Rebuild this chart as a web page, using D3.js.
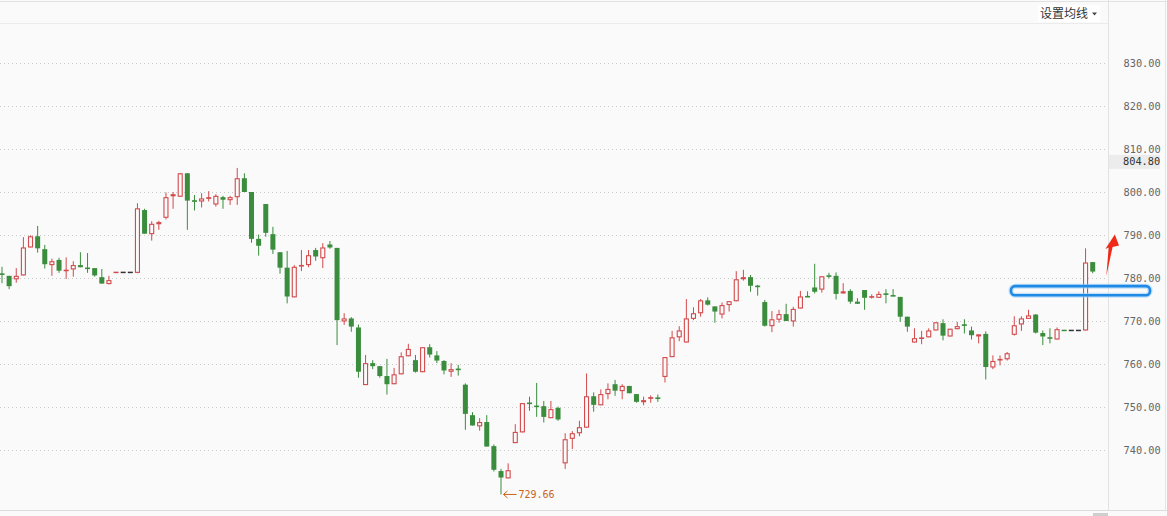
<!DOCTYPE html>
<html><head><meta charset="utf-8">
<script src="https://cdn.jsdelivr.net/npm/d3@7/dist/d3.min.js"></script>
<style>html,body{margin:0;padding:0;background:#fafafa;}svg{display:block;}</style>
</head><body>
<svg id="c" width="1167" height="516"></svg>
<script>
const openP = [780.95,780.5,779.7,780.6,787.1,789.7,786.7,783.0,784.2,781.6,782.0,783.0,782.3,782.3,780.2,778.6,781.3,781.3,781.3,781.2,
795.8,790.2,792.5,794.0,799.0,798.9,804.35,797.95,797.8,798.4,797.1,798.8,798.1,798.8,803.2,800.0,789.1,797.2,790.2,786.0,
782.4,775.5,782.7,783.0,786.5,784.6,787.8,787.0,769.9,770.6,768.5,755.1,760.2,759.5,757.2,755.3,757.6,761.8,760.9,758.1,
763.9,762.0,760.7,758.2,758.8,755.2,748.1,745.5,746.5,740.9,735.1,733.4,741.6,744.1,750.9,750.2,750.2,747.4,749.8,736.9,
742.6,743.9,745.2,752.5,750.4,753.0,755.3,753.7,754.9,753.0,751.1,751.9,752.1,757.0,761.6,766.2,765.0,770.5,771.8,774.8,
773.4,771.5,773.7,774.6,779.7,780.2,778.2,774.4,768.8,770.3,771.6,769.9,772.9,775.7,777.8,777.3,780.5,780.5,776.4,777.0,
774.5,777.2,775.5,775.4,776.3,775.9,775.6,771.0,765.0,765.9,766.2,767.8,769.5,766.4,768.1,769.1,767.8,766.4,767.0,759.2,
760.9,761.1,766.8,769.2,770.5,771.5,767.2,766.1,765.7,767.8,767.8,767.8,767.8,783.7];
const highP = [782.6,780.5,782.3,789.5,789.9,792.1,787.7,784.5,784.7,784.8,783.9,786.0,785.8,782.3,782.1,780.5,781.3,781.3,781.3,797.4,
796.1,793.2,793.3,799.9,800.0,804.4,804.4,799.3,799.7,800.2,799.5,799.1,799.1,805.6,804.35,800.0,790.1,797.2,791.9,786.0,
786.3,783.0,786.5,786.5,787.0,788.1,788.6,787.0,771.8,770.9,769.2,762.1,760.9,759.5,761.2,759.1,762.7,764.7,762.1,763.9,
764.6,763.0,760.9,760.2,759.8,755.5,748.8,747.4,748.1,741.3,735.6,736.9,746.0,750.9,752.4,755.6,751.4,751.4,750.1,743.9,
744.4,746.8,757.8,753.4,754.1,755.5,756.3,755.3,754.9,753.0,752.4,752.7,752.9,761.6,767.7,768.8,775.1,773.2,775.1,775.5,
773.4,774.3,774.6,781.6,781.9,780.7,778.4,774.9,772.3,772.6,774.0,773.3,777.0,776.9,783.3,780.4,781.2,781.3,778.8,777.4,
775.3,777.2,776.2,776.9,777.4,777.4,775.6,771.0,768.3,767.7,768.3,769.7,770.4,768.2,769.8,770.4,768.7,766.9,767.6,762.0,
762.0,762.8,771.1,771.1,772.6,771.6,767.8,768.3,768.5,767.8,767.8,767.8,786.9,783.7];
const lowP = [778.8,777.4,778.9,780.6,787.1,785.9,782.2,780.5,781.2,779.8,780.3,782.5,781.2,780.3,778.7,778.5,781.3,781.3,781.3,781.1,
790.3,788.7,791.2,793.6,796.1,798.9,791.2,795.7,796.4,797.8,796.6,796.1,797.0,797.0,800.0,788.2,785.2,789.6,785.6,781.0,
774.1,775.5,781.6,782.5,784.0,782.3,786.8,764.4,769.1,767.5,756.8,755.1,758.8,756.8,752.9,755.3,757.6,761.8,758.0,758.1,
761.5,760.2,757.6,757.0,757.3,744.7,745.7,744.5,740.8,735.0,729.66,733.4,741.6,744.1,749.1,747.7,746.4,747.4,746.8,735.6,
740.2,743.2,745.2,748.9,750.4,751.8,752.6,751.8,753.2,751.0,750.4,751.0,751.2,755.7,761.6,765.3,765.0,770.2,771.0,773.6,
769.6,770.6,772.2,774.6,779.4,776.8,775.9,768.7,767.4,769.6,770.0,768.7,772.9,775.6,776.4,776.6,779.9,775.0,776.4,774.0,
774.0,772.6,775.2,775.4,774.1,775.8,769.8,767.5,765.0,764.6,766.2,767.8,765.5,766.4,768.1,767.1,765.7,764.8,756.4,758.8,
759.7,760.8,766.6,767.7,770.5,767.1,764.4,764.8,765.7,767.8,767.8,767.8,767.8,781.1];
const closeP = [780.85,778.1,780.5,787.1,789.7,786.9,783.2,783.9,781.7,781.9,783.0,782.5,782.2,780.6,778.7,779.5,781.3,781.3,781.3,796.2,
790.3,792.6,793.0,798.8,799.5,804.35,798.0,797.85,798.5,798.8,799.1,798.2,798.8,803.2,800.0,789.1,787.5,790.5,786.6,782.4,
775.7,782.6,783.0,785.3,785.0,787.1,787.1,770.2,770.6,768.7,758.2,760.2,759.5,757.2,755.3,757.6,761.8,763.5,758.2,763.9,
762.2,760.8,758.5,758.8,758.7,748.4,745.7,746.5,740.8,735.4,733.6,735.3,744.2,750.9,750.8,750.1,747.7,749.5,747.1,742.5,
743.9,745.3,752.5,750.5,753.0,754.2,753.8,754.9,753.2,751.2,751.6,752.3,752.0,761.6,766.2,767.8,770.6,771.8,774.8,773.8,
772.2,773.7,774.6,779.7,780.2,778.2,777.9,768.9,770.4,771.6,770.0,772.8,775.7,775.6,776.8,780.4,780.4,776.3,776.9,774.5,
774.0,775.4,775.7,776.3,776.2,775.8,771.0,768.7,766.0,766.1,767.8,769.7,766.6,768.2,768.8,769.0,766.7,766.9,759.3,760.7,
761.1,762.5,769.0,770.6,771.3,767.3,766.4,766.0,768.1,767.8,767.8,767.8,783.6,781.5];
const days = openP.map((d,i)=>String(i+1));
const tickVals = [740,750,760,770,780,790,800,810,820,830];
const lowLabel = 729.66;
const lastLabel = 804.80;
const menuText = "设置均线";

const RED = "#d24a4c", GREEN = "#3a8d3c", FLAT = "#333", BG = "#fafafa";
const W = 1167, H = 516, axisX = 1108.5;
const svg = d3.select("#c");
svg.append("rect").attr("width",W).attr("height",H).attr("fill",BG);

const y = d3.scaleLinear().domain([740,830]).range([450,63]);
const x = d3.scalePoint().domain(days).range([2,1092.7]);
const bw = 5;

// frame
svg.append("line").attr("x1",0).attr("x2",W).attr("y1",1.5).attr("y2",1.5).attr("stroke","#e2e2e2");
svg.append("line").attr("x1",0).attr("x2",axisX).attr("y1",23.5).attr("y2",23.5).attr("stroke","#ebebeb");
svg.append("line").attr("x1",axisX).attr("x2",axisX).attr("y1",0).attr("y2",510).attr("stroke","#e2e2e2");
svg.append("line").attr("x1",1165.5).attr("x2",1165.5).attr("y1",0).attr("y2",510).attr("stroke","#e6e6e6");
svg.append("line").attr("x1",0).attr("x2",W).attr("y1",510.5).attr("y2",510.5).attr("stroke","#dcdcdc");

// grid
svg.append("g").selectAll("line").data(tickVals).join("line")
  .attr("x1",0).attr("x2",1106).attr("y1",d=>Math.round(y(d))+0.5).attr("y2",d=>Math.round(y(d))+0.5)
  .attr("stroke","#c8c8c8").attr("stroke-dasharray","1,3");

// axis
const ax = svg.append("g").attr("transform",`translate(${axisX},0)`)
  .call(d3.axisRight(y).tickValues(tickVals).tickSize(0).tickPadding(15).tickFormat(d3.format(".2f")));
ax.select(".domain").remove();
ax.selectAll("text").attr("font-family","DejaVu Sans Mono, monospace").attr("font-size","10.3px").attr("fill","#666");

// last price label
const ly = y(lastLabel) - 9.5;
svg.append("rect").attr("x",1109).attr("y",ly-7).attr("width",51).attr("height",14).attr("fill","#ececec");
svg.append("text").attr("x",1123).attr("y",ly).attr("dy","0.35em").text(lastLabel.toFixed(2))
  .attr("font-family","DejaVu Sans Mono, monospace").attr("font-size","10.3px").attr("fill","#333");

// candles
const data = days.map((d,i)=>({d,o:openP[i],h:highP[i],l:lowP[i],c:closeP[i],pc:i>0?closeP[i-1]:openP[i]}));
function col(k){
  if(k.c>k.o) return RED;
  if(k.c<k.o) return GREEN;
  if(k.c>k.pc) return RED;
  if(k.c<k.pc) return GREEN;
  return FLAT;
}
const g = svg.append("g");
data.forEach(k=>{
  const cx = x(k.d), cl = col(k);
  const yt = y(Math.max(k.o,k.c)), yb = y(Math.min(k.o,k.c));
  if(k.h===k.l){
    g.append("rect").attr("x",cx-bw/2).attr("y",y(k.c)-0.75).attr("width",bw).attr("height",1.5).attr("fill",cl);
    return;
  }
  g.append("line").attr("x1",cx).attr("x2",cx).attr("y1",y(k.h)).attr("y2",y(k.l)).attr("stroke",cl).attr("stroke-width",1);
  const bh = yb-yt;
  if(cl===RED && bh>2.2){
    g.append("rect").attr("x",cx-bw/2+0.5).attr("y",yt+0.5).attr("width",bw-1).attr("height",bh-1)
      .attr("fill",BG).attr("stroke",cl).attr("stroke-width",1.1);
  } else {
    const hh = Math.max(bh,1.6);
    g.append("rect").attr("x",cx-bw/2).attr("y",(yt+yb)/2-hh/2).attr("width",bw).attr("height",hh).attr("fill",cl);
  }
});

// lowest marker
const li = lowP.indexOf(lowLabel);
const lx = x(days[li]) + 2.5, lyy = y(lowLabel);
const OR = "#c8641e";
svg.append("path").attr("d",`M${lx+13},${lyy} L${lx},${lyy} M${lx+4},${lyy-3.5} L${lx},${lyy} L${lx+4},${lyy+3.5}`)
  .attr("stroke",OR).attr("fill","none").attr("stroke-width",1);
svg.append("text").attr("x",lx+15).attr("y",lyy).attr("dy","0.35em").text(lowLabel.toFixed(2))
  .attr("font-family","DejaVu Sans Mono, monospace").attr("font-size","10px").attr("fill",OR);

// menu
svg.append("rect").attr("x",1038).attr("y",5).attr("width",62).attr("height",17).attr("fill","#ffffff");
svg.append("text").attr("x",1040).attr("y",18).text(menuText)
  .attr("font-family","Noto Sans CJK SC, sans-serif").attr("font-size","12px").attr("fill","#333");
svg.append("path").attr("d","M1092,12.5 L1097,12.5 L1094.5,15.5 Z").attr("fill","#444");

// annotations: blue highlight + red arrow
const by1 = y(778.1), by2 = y(776.0);
svg.append("rect").attr("x",1011).attr("y",by1).attr("width",139).attr("height",by2-by1).attr("rx",4)
  .attr("fill","none").attr("stroke","#9fd0f8").attr("stroke-width",5).attr("opacity",0.6);
svg.append("rect").attr("x",1011).attr("y",by1).attr("width",139).attr("height",by2-by1).attr("rx",4)
  .attr("fill","none").attr("stroke","#1f8ae6").attr("stroke-width",2.6);
svg.append("path").attr("d","M1106.3,276 L1108.7,247.5 L1105.4,249 L1114.8,234.5 L1119,245.5 L1112.6,247 Z")
  .attr("fill","#ef2a17");
// scroll handle
svg.append("rect").attr("x",1093).attr("y",513).attr("width",15).attr("height",3).attr("fill","#cfcfcf");
</script>
</body></html>
